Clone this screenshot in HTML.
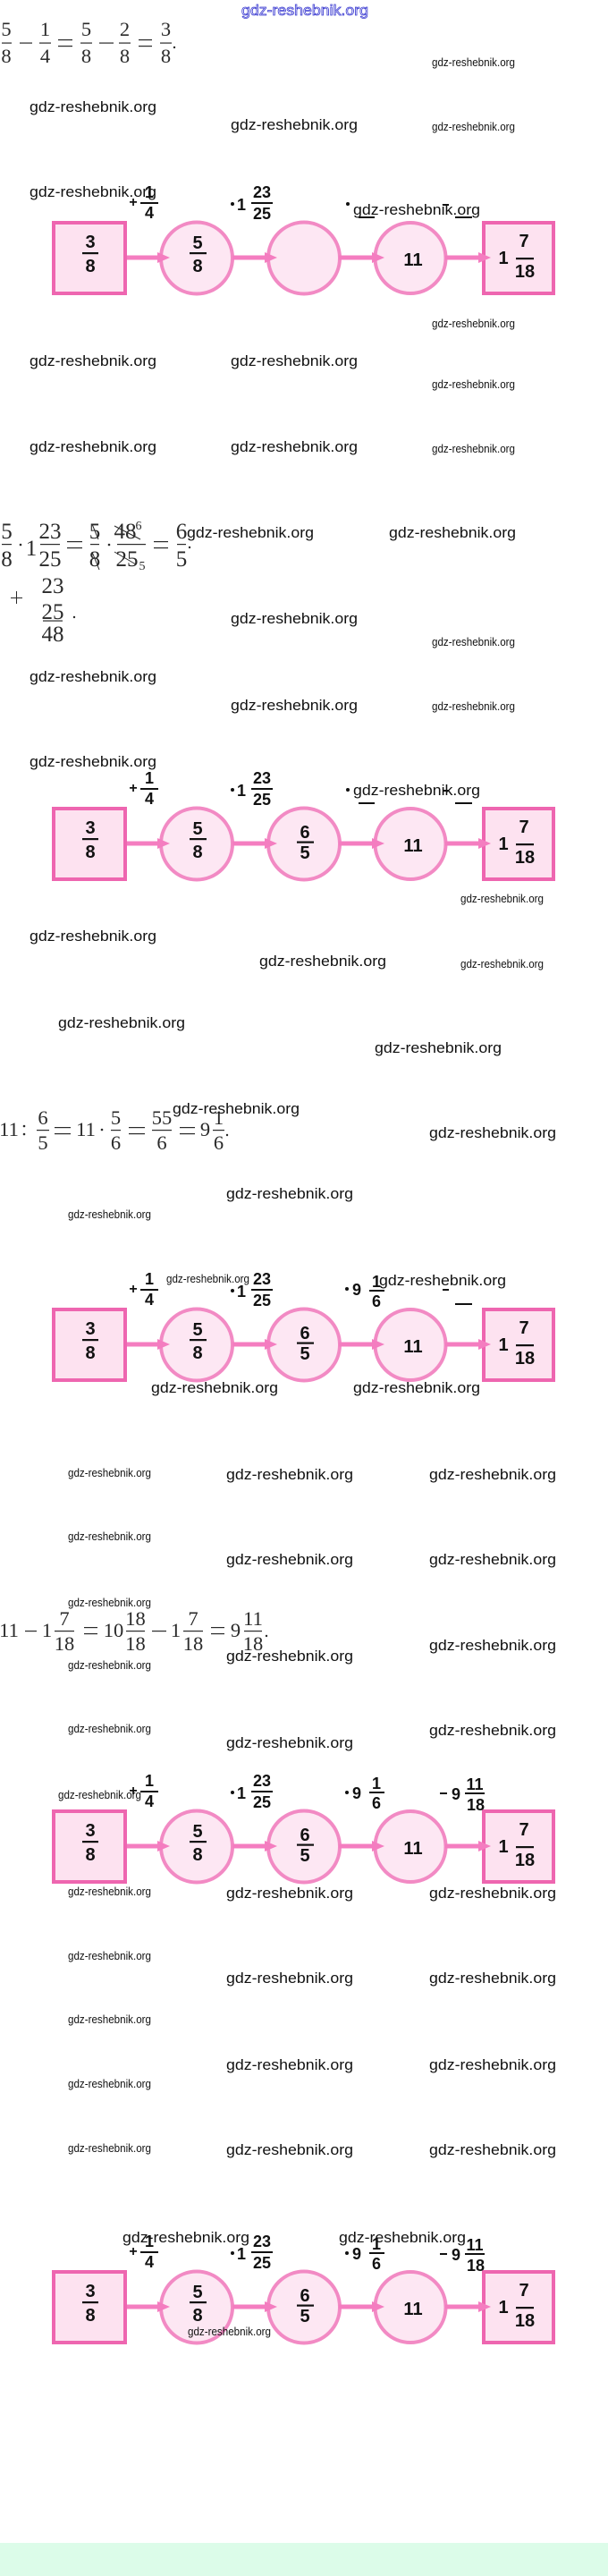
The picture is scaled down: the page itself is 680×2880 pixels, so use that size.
<!DOCTYPE html>
<html><head><meta charset="utf-8">
<style>
html,body{margin:0;padding:0;background:#fff;}
svg{display:block}
.L{font-family:"Liberation Sans",sans-serif;font-size:16.5px;fill:#111}
.S{font-family:"Liberation Sans",sans-serif;font-size:12.5px;fill:#111}
.n{font-family:"Liberation Sans",sans-serif;font-weight:bold;font-size:20px;fill:#111;text-anchor:middle}
.b{font-family:"Liberation Sans",sans-serif;font-weight:bold;font-size:18px;fill:#111;text-anchor:middle}
.s{font-family:"Liberation Serif",serif;font-size:22.5px;fill:#2a2a2a;text-anchor:middle}
.s2{font-family:"Liberation Serif",serif;font-size:25px;fill:#2a2a2a;text-anchor:middle}
.sm{font-family:"Liberation Serif",serif;font-size:14px;fill:#2a2a2a;text-anchor:middle}
.bx{fill:#fde2f0;stroke:#ee66b0;stroke-width:4}
.ci{fill:#fde7f3;stroke:#f28ac4;stroke-width:4}
</style></head><body>
<svg width="680" height="2880" viewBox="0 0 680 2880" xmlns="http://www.w3.org/2000/svg">
<rect x="0" y="0" width="680" height="2880" fill="#fff"/>

<!-- top blue watermark -->
<text x="270" y="17" textLength="142" lengthAdjust="spacingAndGlyphs" style="font-family:'Liberation Sans',sans-serif;font-size:17px;fill:#fff;stroke:#3b3bd1;stroke-width:0.8">gdz-reshebnik.org</text>

<!-- Equation 1 -->
<g fill="#2a2a2a">
<text class="s" x="7" y="40">5</text><rect x="2" y="47.5" width="11" height="1.2"/><text class="s" x="7" y="70">8</text>
<rect x="22" y="47.5" width="14" height="1.2"/>
<text class="s" x="50.5" y="40">1</text><rect x="44" y="47.5" width="13" height="1.2"/><text class="s" x="50.5" y="70">4</text>
<rect x="65" y="44" width="16" height="1.2"/><rect x="65" y="51" width="16" height="1.2"/>
<text class="s" x="96.5" y="40">5</text><rect x="90" y="47.5" width="13" height="1.2"/><text class="s" x="96.5" y="70">8</text>
<rect x="111" y="47.5" width="16" height="1.2"/>
<text class="s" x="139.5" y="40">2</text><rect x="133" y="47.5" width="13" height="1.2"/><text class="s" x="139.5" y="70">8</text>
<rect x="155" y="44" width="15" height="1.2"/><rect x="155" y="51" width="15" height="1.2"/>
<text class="s" x="185.5" y="40">3</text><rect x="179" y="47.5" width="13" height="1.2"/><text class="s" x="185.5" y="70">8</text>
<circle cx="195" cy="53" r="1.2"/>
</g>

<!-- Equation 2 -->
<g fill="#2a2a2a">
<text class="s2" x="7.5" y="602">5</text><rect x="2" y="608" width="11" height="1.2"/><text class="s2" x="7.5" y="633">8</text>
<circle cx="23" cy="609" r="1.3"/>
<text class="s2" x="35" y="621">1</text>
<text class="s2" x="56" y="602">23</text><rect x="45" y="608" width="22" height="1.2"/><text class="s2" x="56" y="633">25</text>
<rect x="75" y="605" width="17" height="1.2"/><rect x="75" y="612" width="17" height="1.2"/>
<text class="s2" x="106" y="602">5</text><rect x="101" y="608" width="10" height="1.2"/><text class="s2" x="106" y="633">8</text>
<line x1="103" y1="586" x2="110" y2="603" stroke="#2a2a2a" stroke-width="1"/>
<line x1="103" y1="617" x2="111" y2="637" stroke="#2a2a2a" stroke-width="1"/>
<circle cx="122" cy="609" r="1.3"/>
<text class="s2" x="140" y="602">48</text><text class="sm" x="155" y="592">6</text>
<line x1="128" y1="588" x2="157" y2="603" stroke="#2a2a2a" stroke-width="1"/>
<rect x="131" y="608" width="32" height="1.2"/>
<text class="s2" x="142" y="633">25</text><text class="sm" x="159" y="637">5</text>
<line x1="128" y1="617" x2="152" y2="631" stroke="#2a2a2a" stroke-width="1"/>
<rect x="172" y="605" width="16" height="1.2"/><rect x="172" y="612" width="16" height="1.2"/>
<text class="s2" x="203" y="602">6</text><rect x="198" y="608" width="10" height="1.2"/><text class="s2" x="203" y="633">5</text>
<circle cx="212" cy="612" r="1.2"/>
<rect x="12" y="668" width="13" height="1"/><rect x="18" y="661" width="1" height="14"/>
<text class="s2" x="59" y="663">23</text>
<text class="s2" x="59" y="692">25</text><rect x="48" y="693.5" width="22" height="1.2"/>
<text class="s2" x="59" y="717">48</text>
<circle cx="83" cy="690" r="1.2"/>
</g>

<!-- Equation 3 -->
<g fill="#2a2a2a">
<text class="s" x="10" y="1270">11</text>
<circle cx="27" cy="1259" r="1.3"/><circle cx="27" cy="1268" r="1.3"/>
<text class="s" x="48" y="1257">6</text><rect x="41" y="1263" width="14" height="1.2"/><text class="s" x="48" y="1285">5</text>
<rect x="61" y="1260" width="18" height="1.2"/><rect x="61" y="1267" width="18" height="1.2"/>
<text class="s" x="96" y="1270">11</text>
<circle cx="114" cy="1263" r="1.3"/>
<text class="s" x="129.5" y="1257">5</text><rect x="124" y="1263" width="11" height="1.2"/><text class="s" x="129.5" y="1285">6</text>
<rect x="144" y="1260" width="18" height="1.2"/><rect x="144" y="1267" width="18" height="1.2"/>
<text class="s" x="181" y="1257">55</text><rect x="170" y="1263" width="22" height="1.2"/><text class="s" x="181" y="1285">6</text>
<rect x="201" y="1260" width="17" height="1.2"/><rect x="201" y="1267" width="17" height="1.2"/>
<text class="s" x="229.5" y="1270">9</text>
<text class="s" x="244.5" y="1257">1</text><rect x="238" y="1263" width="13" height="1.2"/><text class="s" x="244.5" y="1285">6</text>
<circle cx="254" cy="1269" r="1.2"/>
</g>

<!-- Equation 4 -->
<g fill="#2a2a2a">
<text class="s" x="10" y="1830">11</text>
<rect x="28" y="1823" width="13" height="1.2"/>
<text class="s" x="52.5" y="1830">1</text>
<text class="s" x="72" y="1817">7</text><rect x="61" y="1823" width="22" height="1.2"/><text class="s" x="72" y="1845">18</text>
<rect x="94" y="1819" width="15" height="1.2"/><rect x="94" y="1826" width="15" height="1.2"/>
<text class="s" x="127" y="1830">10</text>
<text class="s" x="151.5" y="1817">18</text><rect x="141" y="1823" width="21" height="1.2"/><text class="s" x="151.5" y="1845">18</text>
<rect x="170" y="1823" width="16" height="1.2"/>
<text class="s" x="196.5" y="1830">1</text>
<text class="s" x="216" y="1817">7</text><rect x="205" y="1823" width="22" height="1.2"/><text class="s" x="216" y="1845">18</text>
<rect x="236" y="1819" width="15" height="1.2"/><rect x="236" y="1826" width="15" height="1.2"/>
<text class="s" x="263.5" y="1830">9</text>
<text class="s" x="283" y="1817">11</text><rect x="273" y="1823" width="20" height="1.2"/><text class="s" x="283" y="1845">18</text>
<circle cx="298" cy="1829" r="1.2"/>
</g>

<!-- Diagram 1 -->
<g transform="translate(0,247)">
<rect class="bx" x="60" y="2" width="80" height="79"/>
<circle class="ci" cx="220" cy="41.5" r="40"/>
<circle class="ci" cx="340" cy="41.5" r="40"/>
<circle class="ci" cx="459" cy="41.5" r="39.5"/>
<rect class="bx" x="541" y="2" width="78" height="79"/>
<g fill="#f47dc0">
<rect x="142" y="38.5" width="38" height="5"/><polygon points="176,35 190,41 176,47"/>
<rect x="260" y="38.5" width="40" height="5"/><polygon points="296,35 310,41 296,47"/>
<rect x="379" y="38.5" width="41" height="5"/><polygon points="416,35 430,41 416,47"/>
<rect x="498" y="38.5" width="40" height="5"/><polygon points="535,35 549,41 535,47"/>
</g>
<g fill="#111">
<text class="n" x="101" y="30">3</text><rect x="92" y="35" width="18" height="2.2"/><text class="n" x="101" y="57">8</text>
<text class="n" x="221" y="31">5</text><rect x="212" y="35" width="19" height="2.2"/><text class="n" x="221" y="57">8</text>
<text class="n" x="462" y="50">11</text>
<text class="n" x="563" y="48">1</text><text class="n" x="586" y="29">7</text><rect x="577" y="41" width="20" height="2.2"/><text class="n" x="587" y="63">18</text>
<text class="b" x="149" y="-16" style="font-size:16px">+</text>
<text class="b" x="167" y="-26">1</text><rect x="157" y="-21" width="20" height="2"/><text class="b" x="167" y="-3">4</text>
<circle cx="260" cy="-19" r="2"/><text class="b" x="270" y="-12">1</text>
<text class="b" x="293" y="-26">23</text><rect x="281" y="-21" width="24" height="2"/><text class="b" x="293" y="-2">25</text>
<circle cx="389" cy="-19" r="2"/><rect x="401" y="-5" width="18" height="2"/>
<rect x="495" y="-19" width="7" height="2"/><rect x="509" y="-5" width="19" height="2"/>
</g>
</g>

<!-- Diagram 2 -->
<g transform="translate(0,902)">
<rect class="bx" x="60" y="2" width="80" height="79"/>
<circle class="ci" cx="220" cy="41.5" r="40"/>
<circle class="ci" cx="340" cy="41.5" r="40"/>
<circle class="ci" cx="459" cy="41.5" r="39.5"/>
<rect class="bx" x="541" y="2" width="78" height="79"/>
<g fill="#f47dc0">
<rect x="142" y="38.5" width="38" height="5"/><polygon points="176,35 190,41 176,47"/>
<rect x="260" y="38.5" width="40" height="5"/><polygon points="296,35 310,41 296,47"/>
<rect x="379" y="38.5" width="41" height="5"/><polygon points="416,35 430,41 416,47"/>
<rect x="498" y="38.5" width="40" height="5"/><polygon points="535,35 549,41 535,47"/>
</g>
<g fill="#111">
<text class="n" x="101" y="30">3</text><rect x="92" y="35" width="18" height="2.2"/><text class="n" x="101" y="57">8</text>
<text class="n" x="221" y="31">5</text><rect x="212" y="35" width="19" height="2.2"/><text class="n" x="221" y="57">8</text>
<text class="n" x="341" y="35">6</text><rect x="332" y="38.5" width="19" height="2.2"/><text class="n" x="341" y="58">5</text>
<text class="n" x="462" y="50">11</text>
<text class="n" x="563" y="48">1</text><text class="n" x="586" y="29">7</text><rect x="577" y="41" width="20" height="2.2"/><text class="n" x="587" y="63">18</text>
<text class="b" x="149" y="-16" style="font-size:16px">+</text>
<text class="b" x="167" y="-26">1</text><rect x="157" y="-21" width="20" height="2"/><text class="b" x="167" y="-3">4</text>
<circle cx="260" cy="-19" r="2"/><text class="b" x="270" y="-12">1</text>
<text class="b" x="293" y="-26">23</text><rect x="281" y="-21" width="24" height="2"/><text class="b" x="293" y="-2">25</text>
<circle cx="389" cy="-19" r="2"/><rect x="401" y="-5" width="18" height="2"/>
<rect x="495" y="-19" width="7" height="2"/><rect x="509" y="-5" width="19" height="2"/>
</g>
</g>

<!-- Diagram 3 -->
<g transform="translate(0,1462)">
<rect class="bx" x="60" y="2" width="80" height="79"/>
<circle class="ci" cx="220" cy="41.5" r="40"/>
<circle class="ci" cx="340" cy="41.5" r="40"/>
<circle class="ci" cx="459" cy="41.5" r="39.5"/>
<rect class="bx" x="541" y="2" width="78" height="79"/>
<g fill="#f47dc0">
<rect x="142" y="38.5" width="38" height="5"/><polygon points="176,35 190,41 176,47"/>
<rect x="260" y="38.5" width="40" height="5"/><polygon points="296,35 310,41 296,47"/>
<rect x="379" y="38.5" width="41" height="5"/><polygon points="416,35 430,41 416,47"/>
<rect x="498" y="38.5" width="40" height="5"/><polygon points="535,35 549,41 535,47"/>
</g>
<g fill="#111">
<text class="n" x="101" y="30">3</text><rect x="92" y="35" width="18" height="2.2"/><text class="n" x="101" y="57">8</text>
<text class="n" x="221" y="31">5</text><rect x="212" y="35" width="19" height="2.2"/><text class="n" x="221" y="57">8</text>
<text class="n" x="341" y="35">6</text><rect x="332" y="38.5" width="19" height="2.2"/><text class="n" x="341" y="58">5</text>
<text class="n" x="462" y="50">11</text>
<text class="n" x="563" y="48">1</text><text class="n" x="586" y="29">7</text><rect x="577" y="41" width="20" height="2.2"/><text class="n" x="587" y="63">18</text>
<text class="b" x="149" y="-16" style="font-size:16px">+</text>
<text class="b" x="167" y="-26">1</text><rect x="157" y="-21" width="20" height="2"/><text class="b" x="167" y="-3">4</text>
<circle cx="260" cy="-19" r="2"/><text class="b" x="270" y="-12">1</text>
<text class="b" x="293" y="-26">23</text><rect x="281" y="-21" width="24" height="2"/><text class="b" x="293" y="-2">25</text>
<circle cx="388" cy="-21" r="2"/><text class="b" x="399" y="-14">9</text><text class="b" x="421" y="-23">1</text><rect x="413" y="-20" width="17" height="2"/><text class="b" x="421" y="-1">6</text>
<rect x="495" y="-21" width="7" height="2"/><rect x="509" y="-5" width="19" height="2"/>
</g>
</g>

<!-- Diagram 4 -->
<g transform="translate(0,2023)">
<rect class="bx" x="60" y="2" width="80" height="79"/>
<circle class="ci" cx="220" cy="41.5" r="40"/>
<circle class="ci" cx="340" cy="41.5" r="40"/>
<circle class="ci" cx="459" cy="41.5" r="39.5"/>
<rect class="bx" x="541" y="2" width="78" height="79"/>
<g fill="#f47dc0">
<rect x="142" y="38.5" width="38" height="5"/><polygon points="176,35 190,41 176,47"/>
<rect x="260" y="38.5" width="40" height="5"/><polygon points="296,35 310,41 296,47"/>
<rect x="379" y="38.5" width="41" height="5"/><polygon points="416,35 430,41 416,47"/>
<rect x="498" y="38.5" width="40" height="5"/><polygon points="535,35 549,41 535,47"/>
</g>
<g fill="#111">
<text class="n" x="101" y="30">3</text><rect x="92" y="35" width="18" height="2.2"/><text class="n" x="101" y="57">8</text>
<text class="n" x="221" y="31">5</text><rect x="212" y="35" width="19" height="2.2"/><text class="n" x="221" y="57">8</text>
<text class="n" x="341" y="35">6</text><rect x="332" y="38.5" width="19" height="2.2"/><text class="n" x="341" y="58">5</text>
<text class="n" x="462" y="50">11</text>
<text class="n" x="563" y="48">1</text><text class="n" x="586" y="29">7</text><rect x="577" y="41" width="20" height="2.2"/><text class="n" x="587" y="63">18</text>
<text class="b" x="149" y="-16" style="font-size:16px">+</text>
<text class="b" x="167" y="-26">1</text><rect x="157" y="-21" width="20" height="2"/><text class="b" x="167" y="-3">4</text>
<circle cx="260" cy="-19" r="2"/><text class="b" x="270" y="-12">1</text>
<text class="b" x="293" y="-26">23</text><rect x="281" y="-21" width="24" height="2"/><text class="b" x="293" y="-2">25</text>
<circle cx="388" cy="-19" r="2"/><text class="b" x="399" y="-12">9</text><text class="b" x="421" y="-23">1</text><rect x="413" y="-20" width="17" height="2"/><text class="b" x="421" y="-1">6</text>
<rect x="492" y="-19" width="8" height="2"/><text class="b" x="510" y="-11">9</text><text class="b" x="531" y="-22">11</text><rect x="520" y="-19" width="22" height="2"/><text class="b" x="532" y="1">18</text>
</g>
</g>

<!-- Diagram 5 -->
<g transform="translate(0,2538)">
<rect class="bx" x="60" y="2" width="80" height="79"/>
<circle class="ci" cx="220" cy="41.5" r="40"/>
<circle class="ci" cx="340" cy="41.5" r="40"/>
<circle class="ci" cx="459" cy="41.5" r="39.5"/>
<rect class="bx" x="541" y="2" width="78" height="79"/>
<g fill="#f47dc0">
<rect x="142" y="38.5" width="38" height="5"/><polygon points="176,35 190,41 176,47"/>
<rect x="260" y="38.5" width="40" height="5"/><polygon points="296,35 310,41 296,47"/>
<rect x="379" y="38.5" width="41" height="5"/><polygon points="416,35 430,41 416,47"/>
<rect x="498" y="38.5" width="40" height="5"/><polygon points="535,35 549,41 535,47"/>
</g>
<g fill="#111">
<text class="n" x="101" y="30">3</text><rect x="92" y="35" width="18" height="2.2"/><text class="n" x="101" y="57">8</text>
<text class="n" x="221" y="31">5</text><rect x="212" y="35" width="19" height="2.2"/><text class="n" x="221" y="57">8</text>
<text class="n" x="341" y="35">6</text><rect x="332" y="38.5" width="19" height="2.2"/><text class="n" x="341" y="58">5</text>
<text class="n" x="462" y="50">11</text>
<text class="n" x="563" y="48">1</text><text class="n" x="586" y="29">7</text><rect x="577" y="41" width="20" height="2.2"/><text class="n" x="587" y="63">18</text>
<text class="b" x="149" y="-16" style="font-size:16px">+</text>
<text class="b" x="167" y="-26">1</text><rect x="157" y="-21" width="20" height="2"/><text class="b" x="167" y="-3">4</text>
<circle cx="260" cy="-19" r="2"/><text class="b" x="270" y="-12">1</text>
<text class="b" x="293" y="-26">23</text><rect x="281" y="-21" width="24" height="2"/><text class="b" x="293" y="-2">25</text>
<circle cx="388" cy="-19" r="2"/><text class="b" x="399" y="-12">9</text><text class="b" x="421" y="-23">1</text><rect x="413" y="-20" width="17" height="2"/><text class="b" x="421" y="-1">6</text>
<rect x="492" y="-19" width="8" height="2"/><text class="b" x="510" y="-11">9</text><text class="b" x="531" y="-22">11</text><rect x="520" y="-19" width="22" height="2"/><text class="b" x="532" y="1">18</text>
</g>
</g>

<!-- watermarks -->
<g>
<text class="S" x="483" y="74" textLength="93" lengthAdjust="spacingAndGlyphs">gdz-reshebnik.org</text>
<text class="L" x="33" y="125" textLength="142" lengthAdjust="spacingAndGlyphs">gdz-reshebnik.org</text>
<text class="L" x="258" y="145" textLength="142" lengthAdjust="spacingAndGlyphs">gdz-reshebnik.org</text>
<text class="S" x="483" y="146" textLength="93" lengthAdjust="spacingAndGlyphs">gdz-reshebnik.org</text>
<text class="L" x="33" y="220" textLength="142" lengthAdjust="spacingAndGlyphs">gdz-reshebnik.org</text>
<text class="L" x="395" y="240" textLength="142" lengthAdjust="spacingAndGlyphs">gdz-reshebnik.org</text>
<text class="S" x="483" y="366" textLength="93" lengthAdjust="spacingAndGlyphs">gdz-reshebnik.org</text>
<text class="L" x="33" y="409" textLength="142" lengthAdjust="spacingAndGlyphs">gdz-reshebnik.org</text>
<text class="L" x="258" y="409" textLength="142" lengthAdjust="spacingAndGlyphs">gdz-reshebnik.org</text>
<text class="S" x="483" y="434" textLength="93" lengthAdjust="spacingAndGlyphs">gdz-reshebnik.org</text>
<text class="L" x="33" y="505" textLength="142" lengthAdjust="spacingAndGlyphs">gdz-reshebnik.org</text>
<text class="L" x="258" y="505" textLength="142" lengthAdjust="spacingAndGlyphs">gdz-reshebnik.org</text>
<text class="S" x="483" y="506" textLength="93" lengthAdjust="spacingAndGlyphs">gdz-reshebnik.org</text>
<text class="L" x="209" y="601" textLength="142" lengthAdjust="spacingAndGlyphs">gdz-reshebnik.org</text>
<text class="L" x="435" y="601" textLength="142" lengthAdjust="spacingAndGlyphs">gdz-reshebnik.org</text>
<text class="L" x="258" y="697" textLength="142" lengthAdjust="spacingAndGlyphs">gdz-reshebnik.org</text>
<text class="S" x="483" y="722" textLength="93" lengthAdjust="spacingAndGlyphs">gdz-reshebnik.org</text>
<text class="L" x="33" y="762" textLength="142" lengthAdjust="spacingAndGlyphs">gdz-reshebnik.org</text>
<text class="L" x="258" y="794" textLength="142" lengthAdjust="spacingAndGlyphs">gdz-reshebnik.org</text>
<text class="S" x="483" y="794" textLength="93" lengthAdjust="spacingAndGlyphs">gdz-reshebnik.org</text>
<text class="L" x="33" y="857" textLength="142" lengthAdjust="spacingAndGlyphs">gdz-reshebnik.org</text>
<text class="L" x="395" y="889" textLength="142" lengthAdjust="spacingAndGlyphs">gdz-reshebnik.org</text>
<text class="S" x="515" y="1009" textLength="93" lengthAdjust="spacingAndGlyphs">gdz-reshebnik.org</text>
<text class="L" x="33" y="1052" textLength="142" lengthAdjust="spacingAndGlyphs">gdz-reshebnik.org</text>
<text class="L" x="290" y="1080" textLength="142" lengthAdjust="spacingAndGlyphs">gdz-reshebnik.org</text>
<text class="S" x="515" y="1082" textLength="93" lengthAdjust="spacingAndGlyphs">gdz-reshebnik.org</text>
<text class="L" x="65" y="1149" textLength="142" lengthAdjust="spacingAndGlyphs">gdz-reshebnik.org</text>
<text class="L" x="419" y="1177" textLength="142" lengthAdjust="spacingAndGlyphs">gdz-reshebnik.org</text>
<text class="L" x="193" y="1245" textLength="142" lengthAdjust="spacingAndGlyphs">gdz-reshebnik.org</text>
<text class="L" x="480" y="1272" textLength="142" lengthAdjust="spacingAndGlyphs">gdz-reshebnik.org</text>
<text class="L" x="253" y="1340" textLength="142" lengthAdjust="spacingAndGlyphs">gdz-reshebnik.org</text>
<text class="S" x="76" y="1362" textLength="93" lengthAdjust="spacingAndGlyphs">gdz-reshebnik.org</text>
<text class="S" x="186" y="1434" textLength="93" lengthAdjust="spacingAndGlyphs">gdz-reshebnik.org</text>
<text class="L" x="424" y="1437" textLength="142" lengthAdjust="spacingAndGlyphs">gdz-reshebnik.org</text>
<text class="L" x="169" y="1557" textLength="142" lengthAdjust="spacingAndGlyphs">gdz-reshebnik.org</text>
<text class="L" x="395" y="1557" textLength="142" lengthAdjust="spacingAndGlyphs">gdz-reshebnik.org</text>
<text class="S" x="76" y="1651" textLength="93" lengthAdjust="spacingAndGlyphs">gdz-reshebnik.org</text>
<text class="L" x="253" y="1654" textLength="142" lengthAdjust="spacingAndGlyphs">gdz-reshebnik.org</text>
<text class="L" x="480" y="1654" textLength="142" lengthAdjust="spacingAndGlyphs">gdz-reshebnik.org</text>
<text class="S" x="76" y="1722" textLength="93" lengthAdjust="spacingAndGlyphs">gdz-reshebnik.org</text>
<text class="L" x="253" y="1749" textLength="142" lengthAdjust="spacingAndGlyphs">gdz-reshebnik.org</text>
<text class="L" x="480" y="1749" textLength="142" lengthAdjust="spacingAndGlyphs">gdz-reshebnik.org</text>
<text class="S" x="76" y="1796" textLength="93" lengthAdjust="spacingAndGlyphs">gdz-reshebnik.org</text>
<text class="L" x="253" y="1857" textLength="142" lengthAdjust="spacingAndGlyphs">gdz-reshebnik.org</text>
<text class="L" x="480" y="1845" textLength="142" lengthAdjust="spacingAndGlyphs">gdz-reshebnik.org</text>
<text class="S" x="76" y="1866" textLength="93" lengthAdjust="spacingAndGlyphs">gdz-reshebnik.org</text>
<text class="S" x="76" y="1937" textLength="93" lengthAdjust="spacingAndGlyphs">gdz-reshebnik.org</text>
<text class="L" x="480" y="1940" textLength="142" lengthAdjust="spacingAndGlyphs">gdz-reshebnik.org</text>
<text class="L" x="253" y="1954" textLength="142" lengthAdjust="spacingAndGlyphs">gdz-reshebnik.org</text>
<text class="S" x="65" y="2011" textLength="93" lengthAdjust="spacingAndGlyphs">gdz-reshebnik.org</text>
<text class="S" x="76" y="2119" textLength="93" lengthAdjust="spacingAndGlyphs">gdz-reshebnik.org</text>
<text class="L" x="253" y="2122" textLength="142" lengthAdjust="spacingAndGlyphs">gdz-reshebnik.org</text>
<text class="L" x="480" y="2122" textLength="142" lengthAdjust="spacingAndGlyphs">gdz-reshebnik.org</text>
<text class="S" x="76" y="2191" textLength="93" lengthAdjust="spacingAndGlyphs">gdz-reshebnik.org</text>
<text class="L" x="253" y="2217" textLength="142" lengthAdjust="spacingAndGlyphs">gdz-reshebnik.org</text>
<text class="L" x="480" y="2217" textLength="142" lengthAdjust="spacingAndGlyphs">gdz-reshebnik.org</text>
<text class="S" x="76" y="2262" textLength="93" lengthAdjust="spacingAndGlyphs">gdz-reshebnik.org</text>
<text class="L" x="253" y="2314" textLength="142" lengthAdjust="spacingAndGlyphs">gdz-reshebnik.org</text>
<text class="L" x="480" y="2314" textLength="142" lengthAdjust="spacingAndGlyphs">gdz-reshebnik.org</text>
<text class="S" x="76" y="2334" textLength="93" lengthAdjust="spacingAndGlyphs">gdz-reshebnik.org</text>
<text class="S" x="76" y="2406" textLength="93" lengthAdjust="spacingAndGlyphs">gdz-reshebnik.org</text>
<text class="L" x="253" y="2409" textLength="142" lengthAdjust="spacingAndGlyphs">gdz-reshebnik.org</text>
<text class="L" x="480" y="2409" textLength="142" lengthAdjust="spacingAndGlyphs">gdz-reshebnik.org</text>
<text class="L" x="137" y="2507" textLength="142" lengthAdjust="spacingAndGlyphs">gdz-reshebnik.org</text>
<text class="L" x="379" y="2507" textLength="142" lengthAdjust="spacingAndGlyphs">gdz-reshebnik.org</text>
<text class="S" x="210" y="2611" textLength="93" lengthAdjust="spacingAndGlyphs">gdz-reshebnik.org</text>
</g>

<!-- bottom mint band -->
<rect x="0" y="2843" width="680" height="37" fill="#dcfce9"/>
</svg>
</body></html>
